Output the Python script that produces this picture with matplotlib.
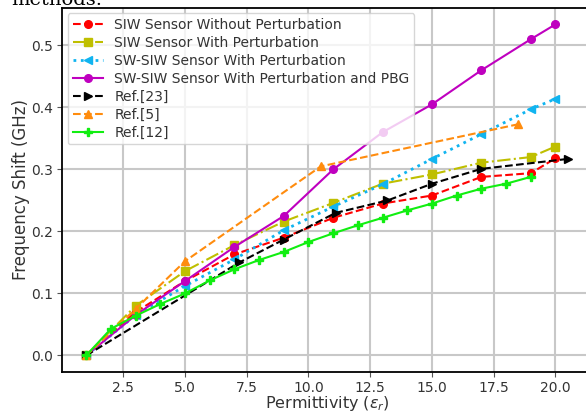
import matplotlib.pyplot as plt

# Permittivity values and frequency shifts (GHz)
eps_siw = [1, 3, 5, 7, 9, 11, 13, 15, 17, 19, 20]
siw_no_pert = [0, 0.07, 0.12, 0.163, 0.19, 0.222, 0.245, 0.258, 0.288, 0.294, 0.318]
siw_pert = [0, 0.08, 0.136, 0.178, 0.216, 0.246, 0.277, 0.292, 0.311, 0.32, 0.337]
swsiw_pert = [0, 0.065, 0.112, 0.155, 0.202, 0.24, 0.276, 0.317, 0.357, 0.397, 0.414]
swsiw_pbg = [0, 0.065, 0.12, 0.175, 0.225, 0.30, 0.36, 0.405, 0.46, 0.51, 0.534]

eps_ref23 = [1, 7.2, 9, 11.1, 13.2, 15, 17, 20.5]
ref23 = [0, 0.15, 0.187, 0.23, 0.25, 0.277, 0.301, 0.317]

eps_ref5 = [1, 3, 5, 10.5, 18.5]
ref5 = [0, 0.075, 0.152, 0.305, 0.373]

eps_ref12 = [1, 2, 3, 4, 5, 6, 7, 8, 9, 10, 11, 12, 13, 14, 15, 16, 17, 18, 19]
ref12 = [0, 0.043, 0.064, 0.083, 0.10, 0.121, 0.139, 0.154, 0.167, 0.183,
         0.197, 0.21, 0.222, 0.234, 0.245, 0.258, 0.269, 0.277, 0.288]

fig = plt.figure(figsize=(5.86, 4.12), dpi=100)
ax = fig.add_axes([0.106, 0.097, 0.904, 0.884])

ax.plot(eps_siw, siw_no_pert, 'r--o', lw=1.5, ms=5.5, label='SIW Sensor Without Perturbation')
ax.plot(eps_siw, siw_pert, '-.s', color='#bfbf00', lw=1.5, ms=6, label='SIW Sensor With Perturbation')
ax.plot(eps_siw, swsiw_pert, ':<', color='#10b4f0', lw=2, ms=6, label='SW-SIW Sensor With Perturbation')
ax.plot(eps_siw, swsiw_pbg, '-o', color='#bf00bf', lw=1.5, ms=5.5, label='SW-SIW Sensor With Perturbation and PBG')
ax.plot(eps_ref23, ref23, 'k-->', lw=1.5, ms=6, label='Ref.[23]')
ax.plot(eps_ref5, ref5, '--^', color='#ff8c0e', lw=1.5, ms=6, label='Ref.[5]')
ax.plot(eps_ref12, ref12, '-P', color='#11ee11', lw=1.5, ms=5.5, label='Ref.[12]')

ax.set_xticks([2.5, 5.0, 7.5, 10.0, 12.5, 15.0, 17.5, 20.0])
ax.set_yticks([0.0, 0.1, 0.2, 0.3, 0.4, 0.5])
ax.grid(True, color='#c8c8c8', lw=1.5)
ax.set_axisbelow(True)
ax.tick_params(labelsize=10, labelcolor='#333333', color='#555555', pad=3)
for s in ax.spines.values():
    s.set_linewidth(1.3)

ax.set_xlabel(r'Permittivity ($\varepsilon_r$)', fontsize=11.5, color='#333333', labelpad=-1)
ax.set_ylabel('Frequency Shift (GHz)', fontsize=12, color='#333333', labelpad=1)

leg = ax.legend(loc='upper left', fontsize=10, framealpha=0.8, handlelength=2.2,
                labelspacing=0.28, borderaxespad=0.4, borderpad=0.35)
for t in leg.get_texts():
    t.set_color('#333333')

fig.text(0.02, 1.0, 'methods.', family='DejaVu Serif', fontsize=14, va='center')

fig.savefig('out.png', dpi=100)
